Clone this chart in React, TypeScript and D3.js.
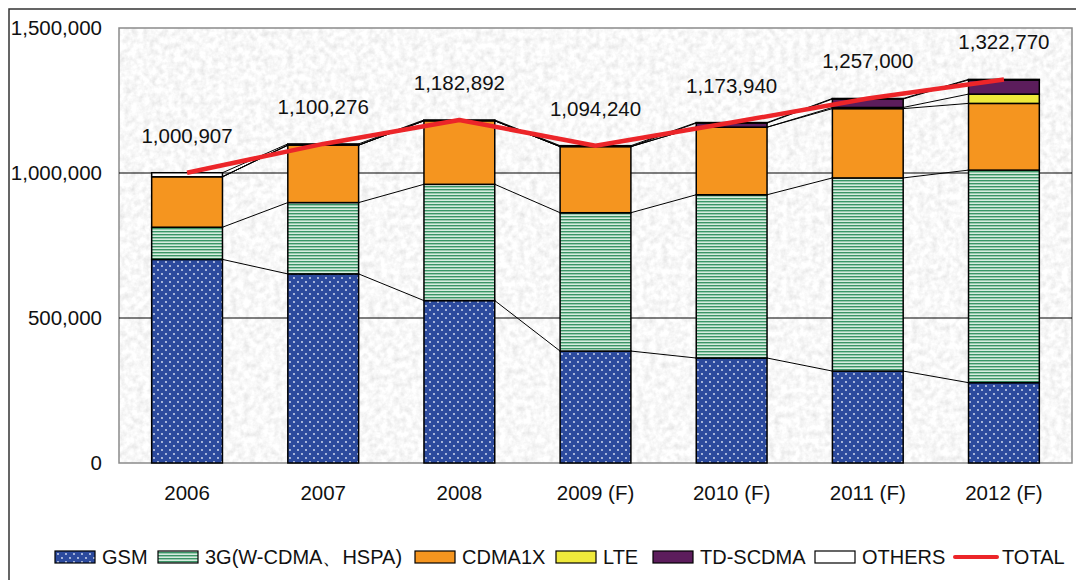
import React, { useRef, useEffect } from 'react';
import * as d3 from 'd3';

const years = ['2006', '2007', '2008', '2009 (F)', '2010 (F)', '2011 (F)', '2012 (F)'];
const gsm = [702000, 652000, 560000, 386000, 362000, 317000, 277000];
const wcdma = [111000, 246000, 401000, 477000, 563000, 666000, 733000];
const cdma1x = [174000, 198000, 219000, 228000, 233000, 239000, 230000];
const lte = [0, 0, 0, 0, 0, 4000, 32000];
const tdscdma = [0, 0, 0, 0, 14000, 29000, 48770];
const others = [13907, 4276, 2892, 3240, 1940, 2000, 2000];
const totals = [1000907, 1100276, 1182892, 1094240, 1173940, 1257000, 1322770];
const yTicks = [0, 500000, 1000000, 1500000];

const seriesNames = ['GSM', '3G(W-CDMA、HSPA)', 'CDMA1X', 'LTE', 'TD-SCDMA', 'OTHERS'];
const seriesData = [gsm, wcdma, cdma1x, lte, tdscdma, others];
const fills = ['url(#gsmPat)', 'url(#wcdmaPat)', '#f5951f', '#efe93b', '#5c1d5c', '#ffffff'];

const App = () => {
  const ref = useRef<SVGSVGElement | null>(null);

  useEffect(() => {
    if (!ref.current) return;
    const W = 1076, H = 580;
    const m = { left: 119, right: 1072, top: 28, bottom: 463 };
    const font = '"Liberation Sans", Arial, sans-serif';

    const svg = d3.select(ref.current);
    svg.selectAll('*').remove();

    const defs = svg.append('defs');
    // granite-like background
    const f = defs.append('filter').attr('id', 'granite')
      .attr('x', 0).attr('y', 0).attr('width', 1).attr('height', 1);
    f.append('feTurbulence').attr('type', 'fractalNoise')
      .attr('baseFrequency', 0.16).attr('numOctaves', 3).attr('seed', 4);
    f.append('feColorMatrix').attr('type', 'matrix')
      .attr('values', '0.38 0 0 0 0.75  0.38 0 0 0 0.75  0.38 0 0 0 0.75  0 0 0 0 1');

    // GSM: blue with white dots
    const gp = defs.append('pattern').attr('id', 'gsmPat').attr('patternUnits', 'userSpaceOnUse')
      .attr('width', 8).attr('height', 8);
    gp.append('rect').attr('width', 8).attr('height', 8).attr('fill', '#2c4a9d');
    gp.append('circle').attr('cx', 2).attr('cy', 2).attr('r', 0.9).attr('fill', '#dfe6f5');
    gp.append('circle').attr('cx', 6).attr('cy', 6).attr('r', 0.9).attr('fill', '#dfe6f5');

    // 3G: green horizontal stripes
    const wp = defs.append('pattern').attr('id', 'wcdmaPat').attr('patternUnits', 'userSpaceOnUse')
      .attr('width', 6).attr('height', 3);
    wp.append('rect').attr('width', 6).attr('height', 3).attr('fill', '#d6ecdf');
    wp.append('rect').attr('width', 6).attr('height', 1.4).attr('fill', '#3a9566');

    // outer frame
    svg.append('rect').attr('x', 9).attr('y', 9).attr('width', W + 20).attr('height', H + 20)
      .attr('fill', '#fff').attr('stroke', '#333').attr('stroke-width', 1.5);

    const x = d3.scaleBand().domain(years).range([m.left, m.right])
      .paddingInner(0.48).paddingOuter(0.24);
    const y = d3.scaleLinear().domain([0, 1500000]).range([m.bottom, m.top]);
    const bw = x.bandwidth();

    svg.append('rect').attr('x', m.left).attr('y', m.top)
      .attr('width', m.right - m.left).attr('height', m.bottom - m.top)
      .attr('filter', 'url(#granite)');
    svg.append('rect').attr('x', m.left).attr('y', m.top)
      .attr('width', m.right - m.left).attr('height', m.bottom - m.top)
      .attr('fill', 'none').attr('stroke', '#8a8a8a').attr('stroke-width', 1.5);

    // gridlines
    svg.append('g').selectAll('line').data(yTicks.filter(t => t > 0 && t < 1500000)).enter()
      .append('line')
      .attr('x1', m.left).attr('x2', m.right)
      .attr('y1', d => y(d)).attr('y2', d => y(d))
      .attr('stroke', '#000').attr('stroke-width', 1);

    // y tick labels
    svg.append('g').selectAll('text').data(yTicks).enter().append('text')
      .attr('x', 102).attr('y', d => y(d)).attr('dy', '0.35em')
      .attr('text-anchor', 'end').attr('font-family', font).attr('font-size', 20.5)
      .attr('fill', '#111').text(d => d3.format(',')(d));

    // x labels
    svg.append('g').selectAll('text').data(years).enter().append('text')
      .attr('x', d => (x(d) as number) + bw / 2).attr('y', 500)
      .attr('text-anchor', 'middle').attr('font-family', font).attr('font-size', 20.5)
      .attr('fill', '#111').text(d => d);

    // stack
    const rows = years.map((yr, i) => {
      const r: any = { year: yr };
      seriesNames.forEach((s, k) => { r[s] = seriesData[k][i]; });
      return r;
    });
    const stacked = d3.stack<any>().keys(seriesNames)(rows);

    // series lines
    const sl = svg.append('g');
    stacked.forEach(layer => {
      for (let i = 0; i < years.length - 1; i++) {
        sl.append('line')
          .attr('x1', (x(years[i]) as number) + bw).attr('y1', y(layer[i][1]))
          .attr('x2', x(years[i + 1]) as number).attr('y2', y(layer[i + 1][1]))
          .attr('stroke', '#000').attr('stroke-width', 1);
      }
    });

    // bars
    stacked.forEach((layer, k) => {
      svg.append('g').selectAll('rect').data(layer).enter().append('rect')
        .attr('x', (d, i) => x(years[i]) as number)
        .attr('y', d => y(d[1]))
        .attr('width', bw)
        .attr('height', d => Math.max(0, y(d[0]) - y(d[1])))
        .attr('fill', fills[k])
        .attr('stroke', '#000').attr('stroke-width', 1.5)
        .style('display', d => (d[1] - d[0] > 0 ? null : 'none'));
    });

    // total line
    const line = d3.line<number>()
      .x((d, i) => (x(years[i]) as number) + bw / 2)
      .y(d => y(d));
    svg.append('path').datum(totals).attr('d', line)
      .attr('fill', 'none').attr('stroke', '#ec2529').attr('stroke-width', 4.5)
      .attr('stroke-linejoin', 'round');

    // total labels
    svg.append('g').selectAll('text').data(totals).enter().append('text')
      .attr('x', (d, i) => (x(years[i]) as number) + bw / 2)
      .attr('y', d => y(d) - 30)
      .attr('text-anchor', 'middle').attr('font-family', font).attr('font-size', 20.5)
      .attr('fill', '#111').text(d => d3.format(',')(d));

    // legend
    const items = [
      { name: 'GSM', x: 55, fill: fills[0] },
      { name: '3G(W-CDMA、HSPA)', x: 158, fill: fills[1] },
      { name: 'CDMA1X', x: 415, fill: fills[2] },
      { name: 'LTE', x: 556, fill: fills[3] },
      { name: 'TD-SCDMA', x: 653, fill: fills[4] },
      { name: 'OTHERS', x: 815, fill: fills[5] },
    ];
    const lg = svg.append('g');
    items.forEach(it => {
      lg.append('rect').attr('x', it.x).attr('y', 551).attr('width', 40).attr('height', 12)
        .attr('fill', it.fill).attr('stroke', '#000').attr('stroke-width', 1.2);
      lg.append('text').attr('x', it.x + 47).attr('y', 557).attr('dy', '0.35em')
        .attr('font-family', font).attr('font-size', 20).attr('fill', '#111').text(it.name);
    });
    lg.append('line').attr('x1', 955).attr('x2', 997).attr('y1', 557).attr('y2', 557)
      .attr('stroke', '#ec2529').attr('stroke-width', 4).attr('stroke-linecap', 'round');
    lg.append('text').attr('x', 1002).attr('y', 557).attr('dy', '0.35em')
      .attr('font-family', font).attr('font-size', 20).attr('fill', '#111').text('TOTAL');
  }, []);

  return (
    <svg ref={ref} width={1076} height={580}
      style={{ position: 'absolute', left: 0, top: 0, background: '#fff' }} />
  );
};

export default App;
